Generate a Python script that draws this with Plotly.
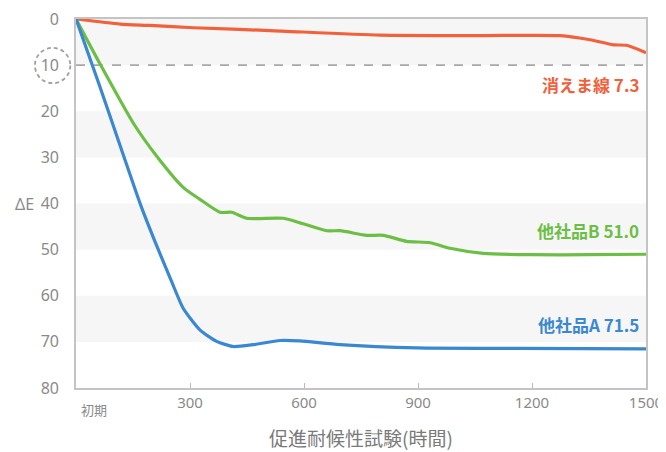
import plotly.graph_objects as go

# Data
hours_red = [0, 116, 195, 309, 510, 800, 1063, 1274, 1353, 1414, 1449, 1500]
de_red = [0, 1.1, 1.4, 1.9, 2.5, 3.5, 3.6, 3.6, 4.5, 5.6, 5.7, 7.3]

hours_green = [0, 63, 151, 212, 282, 326, 379, 410, 449, 546, 598, 660, 695, 765, 809, 870, 932, 984, 1072, 1195, 1350, 1500]
de_green = [0, 9.7, 22.6, 29.7, 36.5, 39.1, 41.9, 41.9, 43.2, 43.2, 44.4, 45.9, 45.9, 46.9, 46.9, 48.2, 48.5, 49.7, 50.8, 51.1, 51.1, 51.0]

hours_blue = [0, 60, 120, 170, 212, 252, 282, 326, 370, 414, 467, 537, 589, 695, 897, 1160, 1500]
de_blue = [0, 14.0, 28.4, 40.3, 49.1, 57.0, 62.7, 67.4, 69.9, 71.0, 70.6, 69.7, 69.8, 70.6, 71.3, 71.4, 71.5]

x_ticks = [300, 600, 900, 1200, 1500]
y_ticks = [0, 10, 20, 30, 40, 50, 60, 70, 80]
band_starts = [0, 20, 40, 60]
threshold = 10

labels = ["消えま線 7.3", "他社品B 51.0", "他社品A 71.5"]
label_y = [14.3, 45.8, 66.3]
colors = ["#f1613c", "#6cbf45", "#3a88d2"]

fig = go.Figure()

for xs, ys, c in [(hours_red, de_red, colors[0]),
                  (hours_green, de_green, colors[1]),
                  (hours_blue, de_blue, colors[2])]:
    fig.add_trace(go.Scatter(x=xs, y=ys, mode="lines",
                             line=dict(color=c, width=3.2, shape="spline", smoothing=0.6),
                             hoverinfo="skip", showlegend=False))

for b in band_starts:
    fig.add_shape(type="rect", xref="x", yref="y", x0=0, x1=1500, y0=b, y1=b + 10,
                  fillcolor="#f6f6f6", line=dict(width=0), layer="below")

fig.add_shape(type="line", xref="x", yref="y", x0=0, x1=1500, y0=threshold, y1=threshold,
              line=dict(color="#a8a8a8", width=1.6, dash="dash"), layer="below")

# dashed circle around the 10 tick label
fig.add_shape(type="circle", xref="paper", yref="paper",
              x0=-0.072, x1=-0.010, y0=0.826, y1=0.922,
              line=dict(color="#a0a0a0", width=1.8, dash="4px,3px"))

for t, yv, c in zip(labels, label_y, colors):
    fig.add_annotation(x=1488, y=yv, xref="x", yref="y", text="<b>" + t + "</b>",
                       showarrow=False, xanchor="right", yanchor="middle",
                       font=dict(family="Noto Sans CJK JP", size=17, color=c))

fig.add_annotation(x=47, y=0, xref="x", yref="paper", text="初期", showarrow=False,
                   yanchor="top", yshift=-10,
                   font=dict(family="Noto Sans CJK JP", size=13, color="#8a8a8a"))

fig.add_annotation(x=-0.07, y=40, xref="paper", yref="y", text="ΔE", showarrow=False,
                   xanchor="right", yanchor="middle",
                   font=dict(family="Noto Sans", size=16, color="#8a8a8a"))

fig.add_annotation(x=0.5, y=0, xref="paper", yref="paper", text="促進耐候性試験(時間)",
                   showarrow=False, yanchor="top", yshift=-34,
                   font=dict(family="Noto Sans CJK JP", size=19, color="#7a7a7a"))

fig.update_layout(
    width=658, height=448,
    margin=dict(l=68, r=20, t=11, b=68, autoexpand=False),
    plot_bgcolor="white", paper_bgcolor="white",
    font=dict(family="Noto Sans", color="#8a8a8a"),
    xaxis=dict(range=[0, 1500], tickvals=x_ticks, ticks="inside", ticklen=5,
               tickcolor="#b8b8b8", showline=True, linecolor="#c4c4c4", linewidth=1.6,
               mirror=True, showgrid=False, zeroline=False, automargin=False,
               ticklabeloverflow="allow",
               tickfont=dict(size=15, color="#8a8a8a")),
    yaxis=dict(range=[80, 0], tickvals=y_ticks, ticks="", showline=True,
               linecolor="#c4c4c4", linewidth=1.6, mirror=True, showgrid=False,
               zeroline=False, ticklabelstandoff=12, automargin=False,
               ticklabeloverflow="allow",
               tickfont=dict(size=16, color="#8a8a8a")),
)

fig.write_html("out.html")
